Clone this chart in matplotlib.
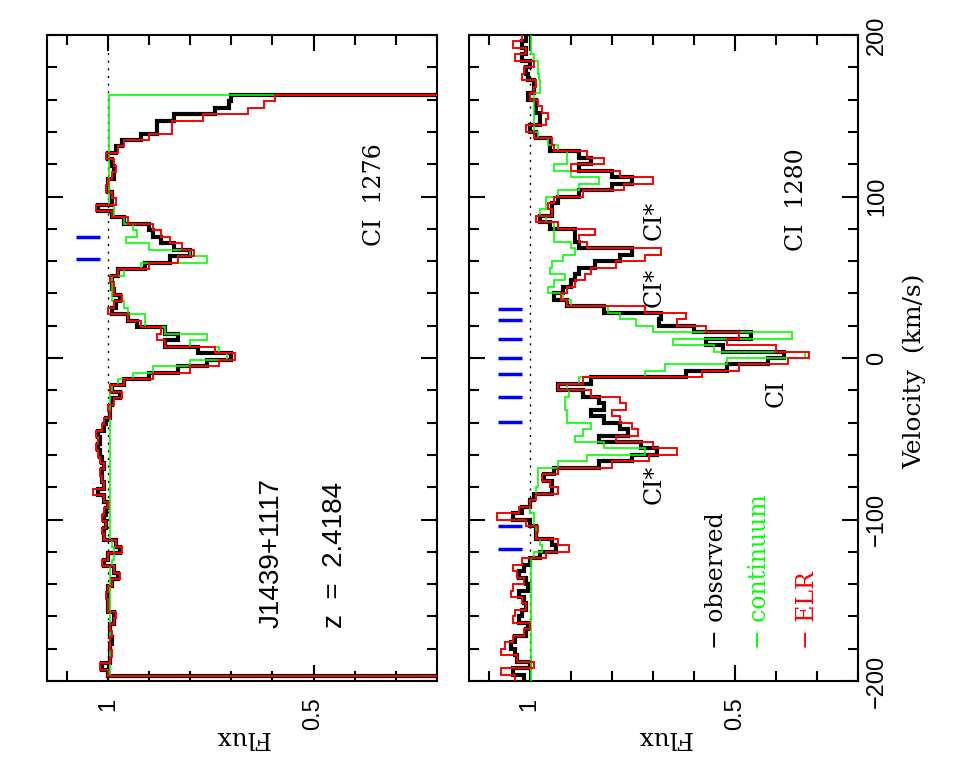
import numpy as np
import matplotlib.pyplot as plt
from matplotlib.ticker import MultipleLocator, FuncFormatter

plt.rcParams['font.family'] = 'DejaVu Serif'

# velocity bin edges (km/s)
v_edges_1276 = np.arange(-197, 164, 4)
v_edges_1280 = np.arange(-200, 201, 4)

# CI 1276 panel, bins from -195 to 161 km/s
obs_1276 = [1.0, 1.015, 0.995, 0.995, 0.995, 0.99, 0.995, 0.995, 0.985, 0.985,
            1.0, 1.0, 1.0, 1.0, 0.99, 0.975, 0.985, 1.01, 1.0, 0.97,
            0.98, 1.01, 1.01, 1.005, 1.01, 1.005, 1.0, 1.01, 1.025, 1.01,
            1.015, 1.015, 1.01, 1.015, 1.02, 1.025, 1.02, 1.025, 1.01, 1.005,
            0.995, 0.995, 0.99, 0.97, 0.99, 0.96, 0.90, 0.83, 0.76, 0.70,
            0.78, 0.86, 0.83, 0.86, 0.93, 0.95, 0.99, 0.98, 0.97, 0.985,
            0.99, 0.99, 0.975, 0.91, 0.85, 0.80, 0.84, 0.87, 0.89, 0.90,
            0.96, 0.99, 1.025, 0.99, 0.99, 1.0, 1.0, 0.985, 0.985, 0.99,
            1.0, 0.98, 0.965, 0.92, 0.88, 0.88, 0.84, 0.74, 0.705, 0.70]
cont_1276 = [0.995, 0.995, 0.995, 0.995, 0.995, 0.995, 0.995, 0.995, 0.995, 0.995,
             0.995, 0.995, 0.995, 0.995, 0.995, 0.995, 0.995, 0.99, 0.985, 0.985,
             0.99, 0.995, 0.995, 0.995, 0.995, 0.995, 0.995, 0.995, 0.995, 0.995,
             0.995, 0.995, 0.995, 0.995, 0.995, 0.995, 0.995, 0.995, 0.995, 0.995,
             0.995, 0.995, 0.995, 0.995, 0.99, 0.975, 0.94, 0.89, 0.80, 0.71,
             0.73, 0.80, 0.76, 0.86, 0.91, 0.91, 0.95, 0.96, 0.99, 0.99,
             0.99, 0.99, 0.96, 0.92, 0.76, 0.80, 0.90, 0.955, 0.93, 0.94,
             0.96, 0.985, 0.985, 0.997, 0.997, 0.997, 0.997, 0.997, 0.997, 0.997,
             0.997, 0.997, 0.997, 0.997, 0.997, 0.997, 0.997, 0.997, 0.997, 0.997]
elr_1276 = [1.0, 1.02, 0.995, 0.99, 0.995, 0.995, 0.99, 0.995, 0.985, 0.98,
            1.0, 1.0, 1.005, 1.0, 0.99, 0.97, 0.985, 1.015, 1.0, 0.965,
            0.98, 1.01, 1.015, 1.005, 1.015, 1.01, 1.0, 1.01, 1.035, 1.01,
            1.015, 1.02, 1.01, 1.02, 1.025, 1.03, 1.025, 1.03, 1.015, 1.01,
            0.995, 1.0, 0.985, 0.965, 0.995, 0.96, 0.89, 0.80, 0.73, 0.69,
            0.74, 0.86, 0.88, 0.87, 0.92, 0.95, 1.0, 0.985, 0.965, 0.985,
            0.985, 0.995, 0.975, 0.90, 0.83, 0.79, 0.82, 0.85, 0.87, 0.89,
            0.95, 0.99, 1.03, 0.98, 0.99, 1.005, 1.0, 0.99, 0.98, 0.985,
            1.005, 0.975, 0.96, 0.90, 0.845, 0.845, 0.77, 0.66, 0.62, 0.595]

# CI 1280 panel, bins from -198 to 198 km/s
obs_1280 = [1.015, 1.04, 1.0, 1.03, 1.035, 1.045, 1.035, 1.01, 1.005, 1.025,
            1.02, 1.01, 1.015, 1.027, 1.005, 1.01, 1.025, 1.015, 1.0, 0.975,
            0.935, 0.945, 0.985, 0.985, 1.0, 1.04, 1.02, 1.0, 0.99, 0.945,
            0.945, 0.965, 0.94, 0.83, 0.75, 0.69, 0.73, 0.83, 0.76, 0.78,
            0.82, 0.85, 0.82, 0.83, 0.87, 0.93, 0.85, 0.62, 0.52, 0.42,
            0.38, 0.53, 0.57, 0.46, 0.60, 0.685, 0.68, 0.82, 0.91, 0.94,
            0.92, 0.90, 0.89, 0.88, 0.84, 0.78, 0.75, 0.88, 0.89, 0.89,
            0.95, 0.975, 0.945, 0.945, 0.93, 0.88, 0.80, 0.75, 0.80, 0.88,
            0.85, 0.88, 0.95, 0.95, 0.985, 1.0, 0.975, 0.975, 0.985, 0.985,
            1.005, 0.99, 0.99, 1.005, 1.01, 1.0, 1.02, 1.01, 1.02, 1.01]
cont_1280 = [0.997, 0.997, 0.997, 0.997, 0.997, 0.997, 0.997, 0.997, 0.997, 0.997,
             0.997, 0.997, 0.997, 0.997, 0.997, 0.997, 0.997, 0.997, 0.997, 0.99,
             0.97, 0.975, 0.985, 0.985, 0.99, 0.99, 1.0, 1.0, 0.985, 0.985,
             0.98, 0.98, 0.98, 0.93, 0.86, 0.72, 0.82, 0.89, 0.87, 0.85,
             0.91, 0.91, 0.915, 0.915, 0.905, 0.91, 0.88, 0.72, 0.67, 0.52,
             0.33, 0.55, 0.65, 0.36, 0.70, 0.74, 0.78, 0.81, 0.90, 0.92,
             0.955, 0.94, 0.915, 0.95, 0.945, 0.92, 0.89, 0.90, 0.94, 0.94,
             0.94, 0.96, 0.975, 0.96, 0.96, 0.93, 0.88, 0.83, 0.90, 0.94,
             0.91, 0.91, 0.93, 0.955, 0.98, 0.99, 0.99, 0.99, 0.99, 0.99,
             0.99, 0.975, 0.975, 0.978, 0.98, 0.98, 0.99, 0.997, 0.997, 0.997]
elr_1280 = [1.035, 1.07, 0.99, 1.03, 1.07, 1.06, 1.04, 1.015, 1.0, 1.04,
            1.035, 1.01, 1.02, 1.045, 1.04, 1.015, 1.03, 1.04, 1.02, 0.96,
            0.905, 0.93, 0.985, 0.98, 1.01, 1.08, 1.027, 1.0, 0.985, 0.93,
            0.95, 0.97, 0.93, 0.80, 0.71, 0.64, 0.70, 0.79, 0.735, 0.75,
            0.78, 0.80, 0.765, 0.78, 0.85, 0.93, 0.87, 0.58, 0.49, 0.37,
            0.32, 0.40, 0.52, 0.49, 0.57, 0.64, 0.62, 0.72, 0.91, 0.925,
            0.91, 0.89, 0.865, 0.85, 0.79, 0.72, 0.68, 0.86, 0.88, 0.84,
            0.93, 0.985, 0.945, 0.955, 0.94, 0.87, 0.77, 0.70, 0.78, 0.90,
            0.82, 0.86, 0.94, 0.945, 0.99, 1.01, 0.96, 0.955, 0.97, 0.98,
            1.0, 0.99, 0.985, 1.02, 1.015, 0.99, 1.035, 1.01, 1.04, 1.02]

# velocity components (km/s)
comp_1276 = [74.9, 61.3]
comp_1280 = [30.6, 23.6, 12.0, 0.0, -9.7, -24.4, -39.8, -104.3, -118.2]

tick_fmt = FuncFormatter(lambda v, p: f'{v:g}'.replace('-', '\u2212'))


def panel(ax, edges, obs, cont, elr, comps, baseline):
    ax.axvline(1.0, color='k', lw=1, ls=(0, (1.5, 4)), zorder=1)
    ax.stairs(obs, edges, orientation='horizontal', baseline=baseline,
              color='k', lw=3, zorder=2)
    ax.stairs(cont, edges, orientation='horizontal', baseline=baseline,
              color='#00ff00', lw=1.2, zorder=3)
    ax.stairs(elr, edges, orientation='horizontal', baseline=baseline,
              color='#ff0000', lw=1.4, zorder=4)
    ax.hlines(comps, 1.02, 1.078, color='#0000ff', lw=2.5, zorder=5)
    ax.set_xlim(1.148, 0.2)
    ax.set_ylim(-200, 200)
    ax.xaxis.set_major_locator(MultipleLocator(0.5))
    ax.xaxis.set_minor_locator(MultipleLocator(0.1))
    ax.yaxis.set_major_locator(MultipleLocator(100))
    ax.yaxis.set_minor_locator(MultipleLocator(20))
    ax.xaxis.set_major_formatter(tick_fmt)
    ax.yaxis.set_major_formatter(tick_fmt)
    ax.tick_params(which='both', direction='in', top=True, right=True,
                   width=1.5, labelleft=False)
    ax.tick_params(which='major', length=11.5)
    ax.tick_params(which='minor', length=7)
    ax.tick_params(axis='x', labelrotation=90, labelsize=17, pad=12)
    for lbl in ax.get_xticklabels():
        lbl.set_family('Liberation Sans')
    for s in ax.spines.values():
        s.set_linewidth(1.5)
    ax.text(0.5, -0.088, 'Flux', transform=ax.transAxes, rotation=180,
            ha='center', va='center', fontsize=18)


fig = plt.figure(figsize=(9.63, 7.71), dpi=100)
ax1 = fig.add_axes([47/963, 1-681/771, 390/963, 646/771])
ax2 = fig.add_axes([469/963, 1-681/771, 389/963, 646/771])

panel(ax1, v_edges_1276, obs_1276, cont_1276, elr_1276, comp_1276, 0)
panel(ax2, v_edges_1280, obs_1280, cont_1280, elr_1280, comp_1280, None)

ax1.tick_params(labelright=False)
ax2.tick_params(axis='y', labelright=True, labelrotation=90, labelsize=17, pad=6)
for lbl in ax2.get_yticklabels():
    lbl.set_family('Liberation Sans')
    lbl.set_va('center')

ax1.text(0.352, 101, 'CI  1276', rotation=90, ha='center', va='center', fontsize=17)
ax1.text(0.602, -121, 'J1439+1117', rotation=90, ha='center', va='center',
         fontsize=20, family='Liberation Sans')
ax1.text(0.449, -122, 'z  =  2.4184', rotation=90, ha='center', va='center',
         fontsize=20, family='Liberation Sans')

ax2.text(0.349, 98, 'CI  1280', rotation=90, ha='center', va='center', fontsize=17)
for v in [85, 44, -78]:
    ax2.text(0.698, v, 'CI*', rotation=90, ha='center', va='center', fontsize=17)
ax2.text(0.40, -22, 'CI', rotation=90, ha='center', va='center', fontsize=17)

ax2.text(0.545, -180, '\u2212 observed', color='k', rotation=90,
         ha='center', va='bottom', fontsize=17)
ax2.text(0.441, -180, '\u2212 continuum', color='#00ff00', rotation=90,
         ha='center', va='bottom', fontsize=17)
ax2.text(0.324, -180, '\u2212 ELR', color='#ff0000', rotation=90,
         ha='center', va='bottom', fontsize=17)

fig.text(914/963, 1-371/771, 'Velocity  (km/s)', rotation=90,
         ha='center', va='center', fontsize=18)

fig.savefig('out.png', dpi=100)
